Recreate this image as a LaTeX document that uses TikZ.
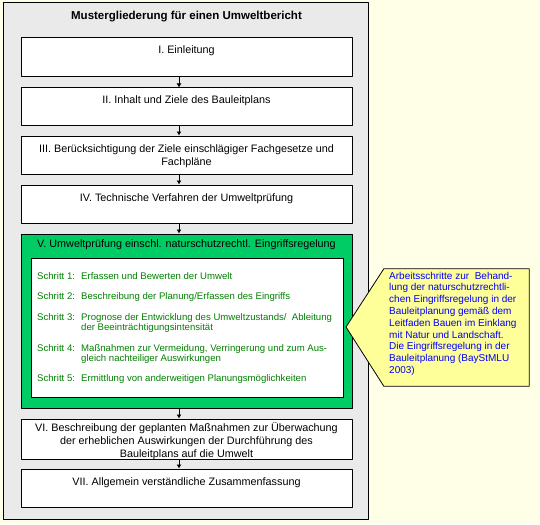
\documentclass[tikz,border=0pt]{standalone}
\usepackage{fontspec}
\setmainfont{Liberation Sans}
\usetikzlibrary{arrows.meta}
\definecolor{bgcream}{HTML}{FFFFE8}
\definecolor{framegray}{HTML}{EAEAEA}
\definecolor{vgreen}{HTML}{00CC66}
\definecolor{stepgreen}{HTML}{008000}
\definecolor{noteyellow}{HTML}{FFFF99}
\definecolor{noteblue}{HTML}{0000FF}
\tikzset{
  box/.style={draw, line width=1pt, fill=white, minimum width=331, inner sep=0pt},
  boxtxt/.style={anchor=base, align=center, inner sep=0pt, font=\fontsize{10.8}{13}\selectfont},
  steptxt/.style={anchor=base west, align=left, inner sep=0pt, text=stepgreen, font=\fontsize{9.6}{10}\selectfont},
}
\begin{document}
\begin{tikzpicture}[x=1pt, y=-1pt, line join=round, >={Latex[length=4pt,width=5pt]}]
\fill[bgcream] (0,0) rectangle (540,524);
\draw[line width=1pt, fill=framegray] (3,3) rectangle (368,519);
\coordinate (ax) at (179,0);
% Gliederungspunkte
\foreach \n/\ya/\yb in {1/38/77, 2/88/125, 3/136/174, 4/185/223, 6/419/459, 7/469/507}
  \node[box, minimum height=\yb-\ya] (b\n) at (186.5,{(\ya+\yb)/2}) {};
\node[box, fill=vgreen, minimum height=174] (b5) at (186.5,321) {};
\node[box, minimum width=312, minimum height=139] (st) at (187,327.5) {};
\node[anchor=base, inner sep=0pt, font=\fontsize{11.5}{14}\selectfont\bfseries] (ttl) at (186.5,20) {Mustergliederung für einen Umweltbericht};
% Abstand: Grundlinie der letzten Zeile unter Kastenoberkante
\foreach \n/\d/\txt in {1/16/{I. Einleitung},
    2/16/{II. Inhalt und Ziele des Bauleitplans},
    3/30/{III. Berücksichtigung der Ziele einschlägiger Fachgesetze und\\Fachpläne},
    4/17/{IV. Technische Verfahren der Umweltprüfung},
    5/14/{V. Umweltprüfung einschl. naturschutzrechtl. Eingriffsregelung},
    6/39/{VI. Beschreibung der geplanten Maßnahmen zur Überwachung\\der erheblichen Auswirkungen der Durchführung des\\Bauleitplans auf die Umwelt},
    7/17/{VII. Allgemein verständliche Zusammenfassung}}
  \node[boxtxt] (l\n) at ([yshift=-\d pt]b\n.north) {\txt};
\foreach \i/\j in {1/2, 2/3, 3/4, 4/5, 5/6, 6/7}
  \draw[->, line width=0.8pt] (b\i.south -| ax) -- (b\j.north -| ax);
% Arbeitsschritte
\foreach \n/\y/\yl/\txt in {1/279/279/{Erfassen und Bewerten der Umwelt},
    2/299/299/{Beschreibung der Planung/Erfassen des Eingriffs},
    3/320/330/{Prognose der Entwicklung des Umweltzustands/\ \ Ableitung\\der Beeinträchtigungsintensität},
    4/351/361/{Maßnahmen zur Vermeidung, Verringerung und zum Aus-\\gleich nachteiliger Auswirkungen},
    5/381/381/{Ermittlung von anderweitigen Planungsmöglichkeiten}}{
  \node[steptxt] (sl\n) at (37,\y) {Schritt \n:};
  \node[steptxt] (s\n) at (81,\yl) {\txt};
}
% Hinweis
\coordinate (tip) at (346,327);
\node[minimum width=145, minimum height=117, inner sep=0pt] (co) at (456.5,327.5) {};
\draw[line width=0.8pt, fill=noteyellow] (co.north west) -- (co.north east) -- (co.south east) -- (co.south west) -- (tip) -- cycle;
\node[anchor=base west, align=left, inner sep=0pt, text=noteblue, font=\fontsize{10}{11.8}\selectfont] (cotxt) at (389,373.4)
  {Arbeitsschritte zur\ \ Behand-\\lung der naturschutzrechtli-\\chen Eingriffsregelung in der\\Bauleitplanung gemäß dem\\Leitfaden Bauen im Einklang\\mit Natur und Landschaft.\\Die Eingriffsregelung in der\\Bauleitplanung (BayStMLU\\2003)};
\end{tikzpicture}
\end{document}
